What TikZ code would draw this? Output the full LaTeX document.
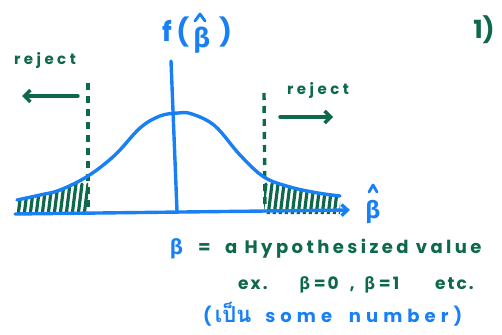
\documentclass[tikz,border=0pt]{standalone}
\usepackage{fontspec}
\setmainfont{Poppins}
\newfontfamily\grk{Fira Sans}
\newfontfamily\thaifont[Script=Thai]{Loma}
\usetikzlibrary{arrows.meta}
\definecolor{penblue}{RGB}{24,128,244}
\definecolor{pengreen}{RGB}{14,104,74}
\tikzset{
  blueink/.style={draw=penblue,line width=3.4pt,line cap=round,line join=round},
  greenink/.style={draw=pengreen,line width=3.4pt,line cap=round,line join=round},
  greendash/.style={draw=pengreen,line width=3.4pt,dash pattern=on 7pt off 6pt},
  hatmark/.style={draw=penblue,line width=2.8pt,line cap=round,line join=round},
  bluetxt/.style={text=penblue,inner sep=0pt},
  greentxt/.style={text=pengreen,inner sep=0pt},
  hatchline/.style={draw=pengreen,line width=3.2pt,line cap=round},
}
\newcommand{\bt}{{\grk\bfseries β}}
\begin{document}
\begin{tikzpicture}[x=1pt,y=-1pt]
\useasboundingbox (0,0) rectangle (502,334);
% hatching, left tail
\begin{scope}
  \clip (17,214) -- plot[smooth,tension=0.6] coordinates {(17,200) (40,195) (60,190) (88,176) (115,155) (140,128) (160,116) (178,113) (192,114) (215,126) (240,155) (264,177) (290,187) (318,193) (340,196)} -- (340,214) -- cycle;
  \clip (15,150) rectangle (88,216);
  \foreach \x in {12,18,...,95} \draw[hatchline] (\x,216) -- ++(4,-32);
\end{scope}
% hatching, right tail
\begin{scope}
  \clip (17,214) -- plot[smooth,tension=0.6] coordinates {(17,200) (40,195) (60,190) (88,176) (115,155) (140,128) (160,116) (178,113) (192,114) (215,126) (240,155) (264,177) (290,187) (318,193) (340,196)} -- (340,214) -- cycle;
  \clip (264,150) rectangle (342,216);
  \foreach \x in {262,268,...,345} \draw[hatchline] (\x,216) -- ++(4,-32);
\end{scope}
% dashed critical lines
\coordinate (lt) at (88,83);
\coordinate (lb) at (88,213);
\coordinate (rt) at (264,93);
\coordinate (rb) at (265,212);
\draw[greendash] (lt) -- (lb);
\draw[greendash] (rt) -- (rb);
% bell curve
\draw[blueink] plot[smooth,tension=0.6] coordinates {(17,200) (40,195) (60,190) (88,176) (115,155) (140,128) (160,116) (178,113) (192,114) (215,126) (240,155) (264,177) (290,187) (318,193) (340,196)};
% axes
\coordinate (ax0) at (15,214);
\coordinate (ax1) at (350,210);
\draw[blueink,-{Straight Barb[length=6pt,width=11pt]}] (ax0) -- (ax1);
\coordinate (vt) at (171,61);
\coordinate (vb) at (177,211);
\draw[blueink] (vt) -- (vb);
% arrows
\coordinate (la0) at (78,96);
\coordinate (la1) at (22,96);
\draw[greenink,-{Straight Barb[length=6pt,width=12pt]}] (la0) -- (la1);
\coordinate (ra0) at (280,117);
\coordinate (ra1) at (333,117);
\draw[greenink,-{Straight Barb[length=6pt,width=12pt]}] (ra0) -- (ra1);
% labels
\node[bluetxt,font=\bfseries\fontsize{27}{27}\selectfont,anchor=base] (fb) at (197,42) {f\,(\,\raisebox{-6pt}{\bt}\,\,)};
\coordinate (fh1) at (195,21);
\coordinate (fh2) at (200,14);
\coordinate (fh3) at (205,21);
\draw[hatmark] (fh1) -- (fh2) -- (fh3);
\node[greentxt,font=\bfseries\fontsize{25}{25}\selectfont] (one) at (484,30) {1)};
\node[greentxt,font=\bfseries\fontsize{15}{15}\selectfont\addfontfeatures{LetterSpace=23}] (rejl) at (45,60) {reject};
\node[greentxt,font=\bfseries\fontsize{15}{15}\selectfont\addfontfeatures{LetterSpace=23}] (rejr) at (318,90) {reject};
\node[bluetxt,font=\bfseries\fontsize{24}{24}\selectfont,anchor=base] (bh) at (373,218) {\bt};
\coordinate (ah1) at (369,192);
\coordinate (ah2) at (373,185);
\coordinate (ah3) at (377,192);
\draw[hatmark] (ah1) -- (ah2) -- (ah3);
\node[bluetxt,font=\bfseries\fontsize{21}{21}\selectfont,anchor=base west] (b0) at (170,254) {\bt};
\node[greentxt,font=\bfseries\fontsize{18}{18}\selectfont\addfontfeatures{LetterSpace=19},anchor=base west] (hyp) at (198,253) {= \ a Hypothesized value};
\node[greentxt,font=\bfseries\fontsize{17}{17}\selectfont\addfontfeatures{LetterSpace=12},anchor=base west] (ex) at (238,289) {ex.\hspace{32pt}\bt\hspace{4pt}=\hspace{2pt}0\hspace{11pt},\hspace{10pt}\bt\hspace{4pt}=\hspace{2pt}1\hspace{36pt}etc.};
\node[bluetxt,font=\bfseries\fontsize{18}{18}\selectfont\addfontfeatures{LetterSpace=28},anchor=base west] (num) at (203,322) {(\,{\thaifont\bfseries\fontsize{22}{22}\selectfont เป็น}\hspace{14pt}some \hspace{8pt}number)};
\end{tikzpicture}
\end{document}
